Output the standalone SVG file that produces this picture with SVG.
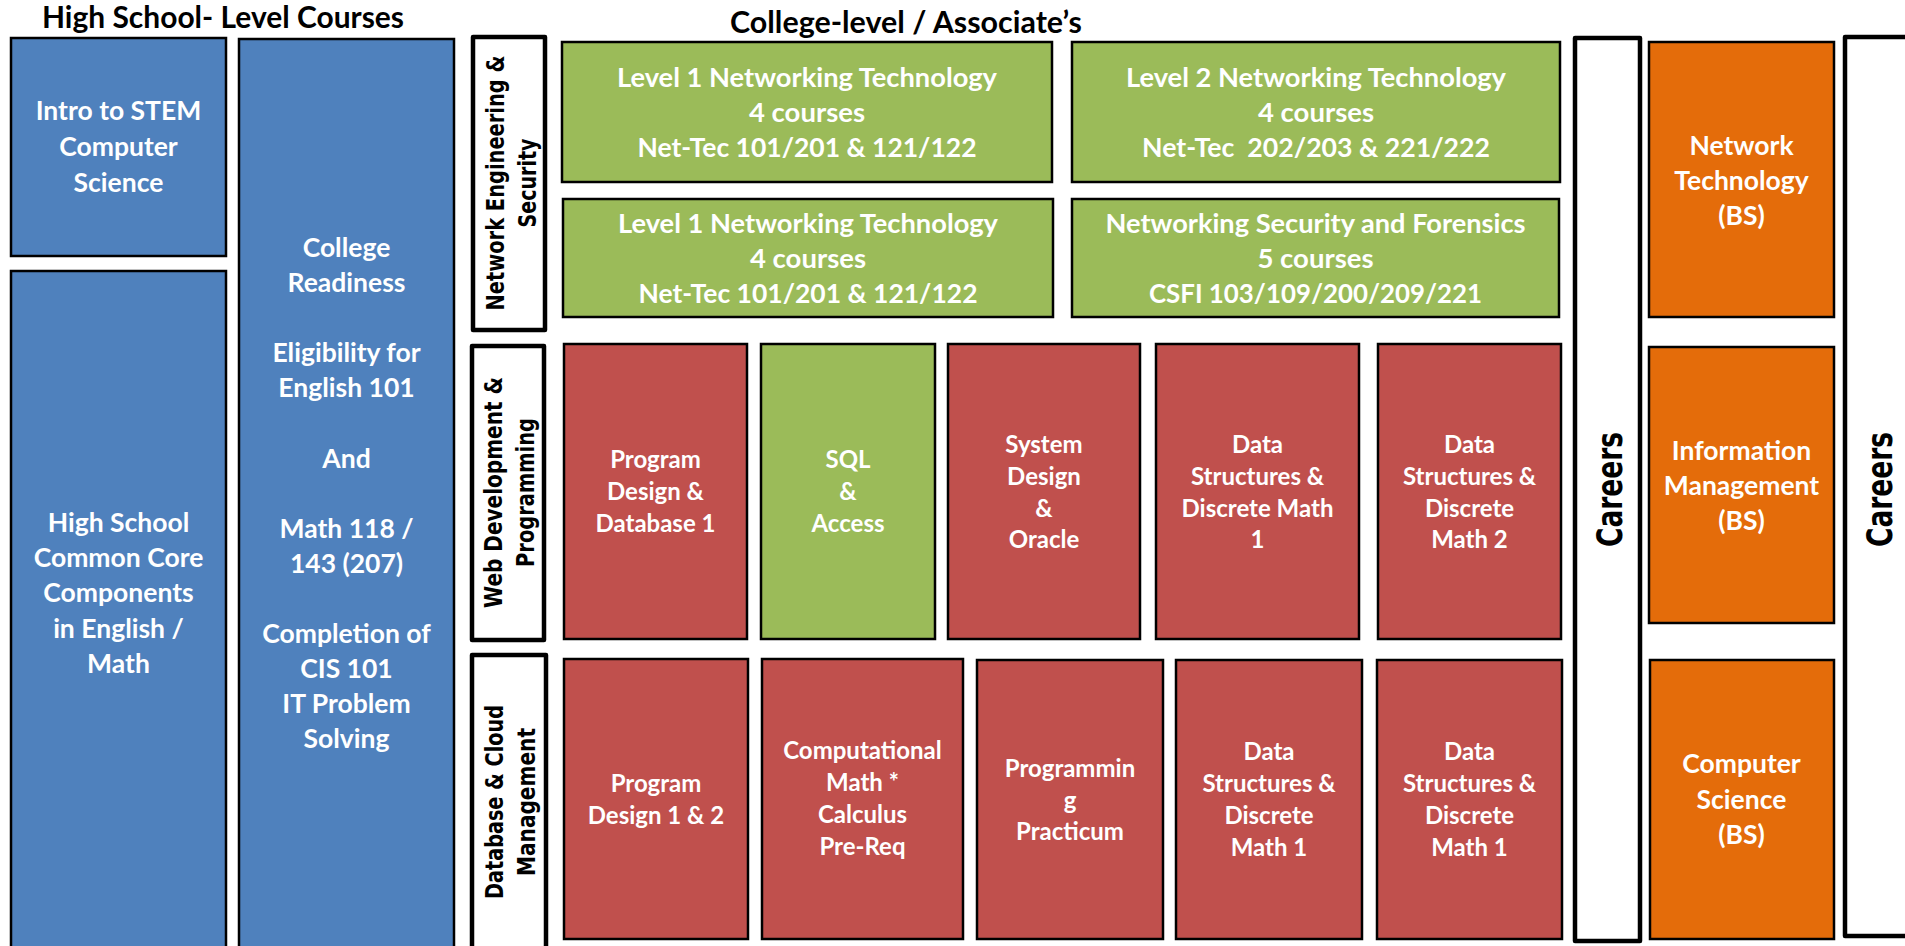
<svg xmlns="http://www.w3.org/2000/svg" width="1905" height="946" viewBox="0 0 1905 946">
  <style>
    .box { stroke: #000; stroke-width: 2.5; }
    .blue { fill: #4F81BD; }
    .green { fill: #9BBB59; }
    .red { fill: #C0504D; }
    .orange { fill: #E46C0A; }
    .frame { fill: #fff; stroke: #000; stroke-width: 4.5; stroke-linejoin: round; }
    .t { font-family: Lato, "Open Sans", "Liberation Sans", sans-serif; font-weight: bold; fill: #fff; text-anchor: middle; }
    .big { font-size: 26.5px; }
    .mid { font-size: 27.5px; }
    .small { font-size: 24px; }
    .title { font-family: Lato, "Open Sans", "Liberation Sans", sans-serif; font-weight: bold; fill: #000; font-size: 30px; text-anchor: middle; }
    .side { font-family: "DejaVu Sans", "Liberation Sans", sans-serif; font-weight: bold; fill: #000; font-size: 24px; text-anchor: middle; }
    .careers { font-family: "DejaVu Sans", "Liberation Sans", sans-serif; font-weight: bold; fill: #000; font-size: 36px; text-anchor: middle; }
  </style>
  <rect width="1905" height="946" fill="#fff"/>

  <!-- column headings -->
  <text class="title" x="223" y="28" textLength="362" lengthAdjust="spacingAndGlyphs">High School- Level Courses</text>
  <text class="title" x="906" y="33" textLength="352" lengthAdjust="spacingAndGlyphs">College-level / Associate’s</text>

  <!-- high school column -->
  <g id="intro-stem">
    <rect class="box blue" x="11" y="38" width="215" height="218"/>
    <text class="t big" x="118.5" y="120">Intro to STEM</text>
    <text class="t big" x="118.5" y="156">Computer</text>
    <text class="t big" x="118.5" y="192">Science</text>
  </g>
  <g id="common-core">
    <rect class="box blue" x="11" y="271" width="215" height="690"/>
    <text class="t big" x="118.5" y="532">High School</text>
    <text class="t big" x="118.5" y="567">Common Core</text>
    <text class="t big" x="118.5" y="602">Components</text>
    <text class="t big" x="118.5" y="638">in English /</text>
    <text class="t big" x="118.5" y="673">Math</text>
  </g>
  <g id="college-readiness">
    <rect class="box blue" x="239" y="39" width="215" height="922"/>
    <text class="t big" x="346.5" y="257">College</text>
    <text class="t big" x="346.5" y="292">Readiness</text>
    <text class="t big" x="346.5" y="362">Eligibility for</text>
    <text class="t big" x="346.5" y="397">English 101</text>
    <text class="t big" x="346.5" y="468">And</text>
    <text class="t big" x="346.5" y="538">Math 118 /</text>
    <text class="t big" x="346.5" y="573">143 (207)</text>
    <text class="t big" x="346.5" y="643">Completion of</text>
    <text class="t big" x="346.5" y="678">CIS 101</text>
    <text class="t big" x="346.5" y="713">IT Problem</text>
    <text class="t big" x="346.5" y="748">Solving</text>
  </g>

  <!-- track labels, set vertically -->
  <g id="track-network">
    <rect class="frame" x="473" y="37" width="72" height="293"/>
    <text class="side" transform="translate(503.5 183) rotate(-90)" textLength="255" lengthAdjust="spacingAndGlyphs">Network Engineering &amp;</text>
    <text class="side" transform="translate(536 183) rotate(-90)" textLength="89" lengthAdjust="spacingAndGlyphs">Security</text>
  </g>
  <g id="track-web">
    <rect class="frame" x="472" y="346" width="72" height="294"/>
    <text class="side" transform="translate(502 492.5) rotate(-90)" textLength="231" lengthAdjust="spacingAndGlyphs">Web Development &amp;</text>
    <text class="side" transform="translate(534 492.5) rotate(-90)" textLength="149" lengthAdjust="spacingAndGlyphs">Programming</text>
  </g>
  <g id="track-database">
    <rect class="frame" x="472" y="655" width="74" height="310"/>
    <text class="side" transform="translate(503 802) rotate(-90)" textLength="194" lengthAdjust="spacingAndGlyphs">Database &amp; Cloud</text>
    <text class="side" transform="translate(535 802) rotate(-90)" textLength="148" lengthAdjust="spacingAndGlyphs">Management</text>
  </g>

  <!-- networking courses -->
  <g id="net-level1-a">
    <rect class="box green" x="562" y="42" width="490" height="140"/>
    <text class="t mid" x="807" y="87" textLength="380" lengthAdjust="spacingAndGlyphs">Level 1 Networking Technology</text>
    <text class="t mid" x="807" y="122">4 courses</text>
    <text class="t mid" x="807" y="157" textLength="339" lengthAdjust="spacingAndGlyphs">Net-Tec 101/201 &amp; 121/122</text>
  </g>
  <g id="net-level2">
    <rect class="box green" x="1072" y="42" width="488" height="140"/>
    <text class="t mid" x="1316" y="87" textLength="380" lengthAdjust="spacingAndGlyphs">Level 2 Networking Technology</text>
    <text class="t mid" x="1316" y="122">4 courses</text>
    <text class="t mid" x="1316" y="157" textLength="348" lengthAdjust="spacingAndGlyphs" xml:space="preserve">Net-Tec  202/203 &amp; 221/222</text>
  </g>
  <g id="net-level1-b">
    <rect class="box green" x="563" y="199" width="490" height="118"/>
    <text class="t mid" x="808" y="233" textLength="380" lengthAdjust="spacingAndGlyphs">Level 1 Networking Technology</text>
    <text class="t mid" x="808" y="268">4 courses</text>
    <text class="t mid" x="808" y="303" textLength="339" lengthAdjust="spacingAndGlyphs">Net-Tec 101/201 &amp; 121/122</text>
  </g>
  <g id="net-security">
    <rect class="box green" x="1072" y="199" width="487" height="118"/>
    <text class="t mid" x="1315.5" y="233" textLength="420" lengthAdjust="spacingAndGlyphs">Networking Security and Forensics</text>
    <text class="t mid" x="1315.5" y="268">5 courses</text>
    <text class="t mid" x="1315.5" y="303" textLength="333" lengthAdjust="spacingAndGlyphs">CSFI 103/109/200/209/221</text>
  </g>

  <!-- web development & programming courses -->
  <g id="web-program-design">
    <rect class="box red" x="564" y="344" width="183" height="295"/>
    <text class="t small" x="655.5" y="468">Program</text>
    <text class="t small" x="655.5" y="500">Design &amp;</text>
    <text class="t small" x="655.5" y="532">Database 1</text>
  </g>
  <g id="web-sql">
    <rect class="box green" x="761" y="344" width="174" height="295"/>
    <text class="t small" x="848" y="468">SQL</text>
    <text class="t small" x="848" y="500">&amp;</text>
    <text class="t small" x="848" y="532">Access</text>
  </g>
  <g id="web-system-design">
    <rect class="box red" x="948" y="344" width="192" height="295"/>
    <text class="t small" x="1044" y="453">System</text>
    <text class="t small" x="1044" y="485">Design</text>
    <text class="t small" x="1044" y="517">&amp;</text>
    <text class="t small" x="1044" y="548">Oracle</text>
  </g>
  <g id="web-data-structures-1">
    <rect class="box red" x="1156" y="344" width="203" height="295"/>
    <text class="t small" x="1257.5" y="453">Data</text>
    <text class="t small" x="1257.5" y="485">Structures &amp;</text>
    <text class="t small" x="1257.5" y="517">Discrete Math</text>
    <text class="t small" x="1257.5" y="548">1</text>
  </g>
  <g id="web-data-structures-2">
    <rect class="box red" x="1378" y="344" width="183" height="295"/>
    <text class="t small" x="1469.5" y="453">Data</text>
    <text class="t small" x="1469.5" y="485">Structures &amp;</text>
    <text class="t small" x="1469.5" y="517">Discrete</text>
    <text class="t small" x="1469.5" y="548">Math 2</text>
  </g>

  <!-- database & cloud management courses -->
  <g id="db-program-design">
    <rect class="box red" x="564" y="659" width="184" height="280"/>
    <text class="t small" x="656" y="792">Program</text>
    <text class="t small" x="656" y="824">Design 1 &amp; 2</text>
  </g>
  <g id="db-computational-math">
    <rect class="box red" x="762" y="659" width="201" height="280"/>
    <text class="t small" x="862.5" y="759">Computational</text>
    <text class="t small" x="862.5" y="791">Math *</text>
    <text class="t small" x="862.5" y="823">Calculus</text>
    <text class="t small" x="862.5" y="855">Pre-Req</text>
  </g>
  <g id="db-practicum">
    <rect class="box red" x="977" y="660" width="186" height="279"/>
    <text class="t small" x="1070" y="777">Programmin</text>
    <text class="t small" x="1070" y="809">g</text>
    <text class="t small" x="1070" y="840">Practicum</text>
  </g>
  <g id="db-data-structures-1">
    <rect class="box red" x="1176" y="660" width="186" height="279"/>
    <text class="t small" x="1269" y="760">Data</text>
    <text class="t small" x="1269" y="792">Structures &amp;</text>
    <text class="t small" x="1269" y="824">Discrete</text>
    <text class="t small" x="1269" y="856">Math 1</text>
  </g>
  <g id="db-data-structures-2">
    <rect class="box red" x="1377" y="660" width="185" height="279"/>
    <text class="t small" x="1469.5" y="760">Data</text>
    <text class="t small" x="1469.5" y="792">Structures &amp;</text>
    <text class="t small" x="1469.5" y="824">Discrete</text>
    <text class="t small" x="1469.5" y="856">Math 1</text>
  </g>

  <!-- careers and degrees -->
  <g id="careers-left">
    <rect class="frame" x="1575" y="38" width="65" height="903"/>
    <text class="careers" transform="translate(1622 489.5) rotate(-90)" textLength="115" lengthAdjust="spacingAndGlyphs">Careers</text>
  </g>
  <g id="bs-network-technology">
    <rect class="box orange" x="1649" y="42" width="185" height="275"/>
    <text class="t big" x="1741.5" y="155">Network</text>
    <text class="t big" x="1741.5" y="190">Technology</text>
    <text class="t big" x="1741.5" y="225">(BS)</text>
  </g>
  <g id="bs-information-management">
    <rect class="box orange" x="1649" y="347" width="185" height="276"/>
    <text class="t big" x="1741.5" y="460">Information</text>
    <text class="t big" x="1741.5" y="495">Management</text>
    <text class="t big" x="1741.5" y="530">(BS)</text>
  </g>
  <g id="bs-computer-science">
    <rect class="box orange" x="1650" y="660" width="184" height="279"/>
    <text class="t big" x="1741.5" y="773">Computer</text>
    <text class="t big" x="1741.5" y="809">Science</text>
    <text class="t big" x="1741.5" y="844">(BS)</text>
  </g>
  <g id="careers-right">
    <rect class="frame" x="1845" y="37" width="80" height="899"/>
    <text class="careers" transform="translate(1892 489.5) rotate(-90)" textLength="115" lengthAdjust="spacingAndGlyphs">Careers</text>
  </g>

  <!-- no connectors are drawn between the blocks -->
  <g id="connectors"/>
</svg>
